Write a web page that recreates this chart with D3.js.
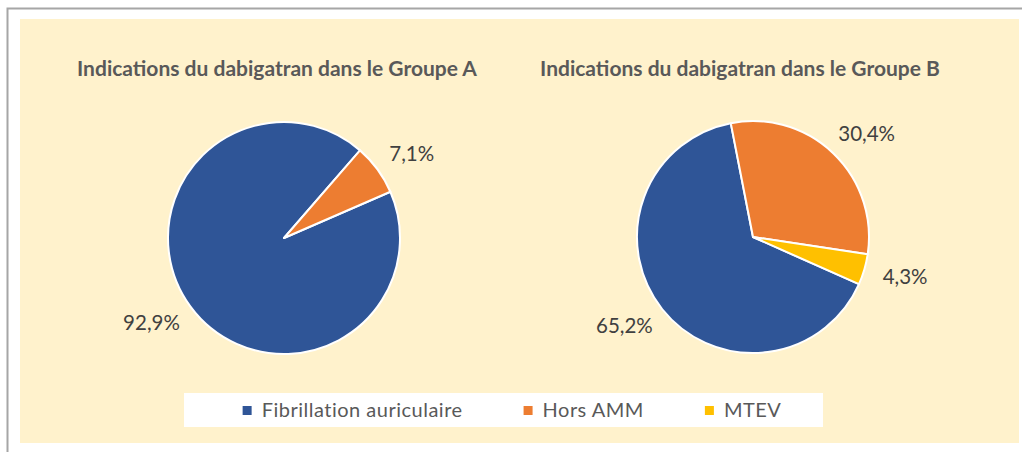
<!DOCTYPE html>
<html>
<head>
<meta charset="utf-8">
<script src="https://cdn.jsdelivr.net/npm/d3@7"></script>
<style>
  body { margin: 0; background: #fff; }
  text { font-family: Lato, "Open Sans", sans-serif; }
</style>
</head>
<body>
<script>
// chart values
var categories = ["Fibrillation auriculaire", "Hors AMM", "MTEV"];
var colors = ["#2f5597", "#ed7d31", "#ffc000"];
var groupA = [92.9, 7.1, 0];
var groupB = [65.2, 30.4, 4.3];
var titles = ["Indications du dabigatran dans le Groupe A", "Indications du dabigatran dans le Groupe B"];

var width = 1022, height = 452;

var svg = d3.select("body").append("svg")
    .attr("width", width)
    .attr("height", height);

// outer frame (grey lines top and left)
svg.append("path")
    .attr("d", "M7.5,452 V8.5 H1022")
    .attr("fill", "none")
    .attr("stroke", "#a6a6a6")
    .attr("stroke-width", 2);

// beige chart area
svg.append("rect")
    .attr("x", 20).attr("y", 19)
    .attr("width", 999).attr("height", 424)
    .attr("fill", "#fff2cc");

var fmt = function(v) { return d3.format(".1f")(v).replace(".", ",") + "%"; };

var pies = [
    {values: groupA, title: titles[0], cx: 284, cy: 238, tx: 277, rot: 66.5},
    {values: groupB, title: titles[1], cx: 753, cy: 237, tx: 740, rot: 114}
];

var radius = 116;
var labelR = 136;   // distance of the label box from the centre
var arc = d3.arc().innerRadius(0).outerRadius(radius);

pies.forEach(function(p) {
    var rows = p.values.map(function(v, i) { return {cat: categories[i], color: colors[i], value: v}; })
        .filter(function(d) { return d.value > 0; });

    var pie = d3.pie()
        .sort(null)
        .value(function(d) { return d.value; })
        .startAngle(p.rot * Math.PI / 180)
        .endAngle(p.rot * Math.PI / 180 + 2 * Math.PI);

    // title
    svg.append("text")
        .attr("x", p.tx)
        .attr("y", 76)
        .attr("text-anchor", "middle")
        .attr("font-weight", "bold")
        .attr("font-size", "21px")
        .attr("fill", "#595959")
        .text(p.title);

    var g = svg.append("g")
        .attr("transform", "translate(" + p.cx + "," + p.cy + ")");

    var arcs = pie(rows);

    g.selectAll(".slice")
        .data(arcs)
        .enter().append("path")
        .attr("class", "slice")
        .attr("d", arc)
        .attr("fill", function(d) { return d.data.color; })
        .attr("stroke", "#fff")
        .attr("stroke-width", 2)
        .attr("stroke-linejoin", "round");

    // labels outside the end: push the box out so its corner sits near labelR
    g.selectAll(".lbl")
        .data(arcs)
        .enter().append("text")
        .attr("class", "lbl")
        .attr("dy", "0.36em")
        .attr("text-anchor", "middle")
        .attr("font-size", "20.5px")
        .attr("fill", "#404040")
        .text(function(d) { return fmt(d.data.value); })
        .attr("transform", function(d) {
            var a = (d.startAngle + d.endAngle) / 2;
            var ux = Math.sin(a), uy = -Math.cos(a);
            var w = this.getComputedTextLength(), h = 14;
            var x = labelR * ux + w / 2 * ux;
            var y = labelR * uy + h / 2 * uy;
            return "translate(" + x + "," + y + ")";
        });
});

// legend
svg.append("rect")
    .attr("x", 184).attr("y", 393)
    .attr("width", 639).attr("height", 34)
    .attr("fill", "#fff");

var legend = svg.append("g");
var items = legend.selectAll(".item")
    .data(categories)
    .enter().append("g")
    .attr("class", "item");

items.append("rect")
    .attr("width", 9).attr("height", 9)
    .attr("y", 406)
    .attr("fill", function(d, i) { return colors[i]; });

items.append("text")
    .attr("x", 19)
    .attr("y", 416.5)
    .attr("font-size", "20px")
    .attr("letter-spacing", "0.5px")
    .attr("fill", "#595959")
    .text(function(d) { return d; });

// place items side by side, centred under the pies
var gap = 61, total = 0, widths = [];
items.each(function() {
    var w = d3.select(this).select("text").node().getComputedTextLength() + 19;
    widths.push(w);
    total += w;
});
total += gap * (categories.length - 1);
var x0 = 512 - total / 2;
items.attr("transform", function(d, i) {
    var x = x0;
    for (var k = 0; k < i; k++) x += widths[k] + gap;
    return "translate(" + x + ",0)";
});
</script>
</body>
</html>
